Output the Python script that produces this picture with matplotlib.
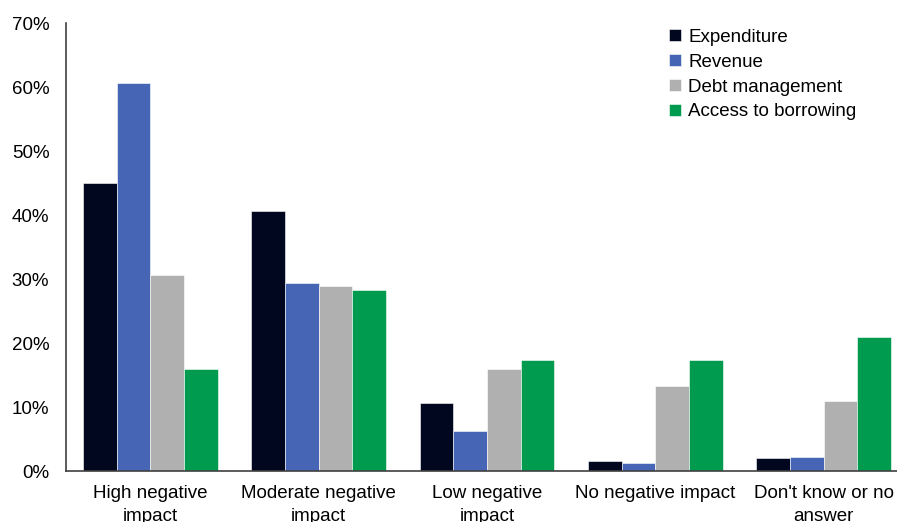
import matplotlib.pyplot as plt
import numpy as np

plt.rcParams['font.family'] = ['Liberation Sans', 'DejaVu Sans']

categories = ["High negative\nimpact", "Moderate negative\nimpact", "Low negative\nimpact",
              "No negative impact", "Don't know or no\nanswer"]
series = ["Expenditure", "Revenue", "Debt management", "Access to borrowing"]
expenditure = [45.0, 40.6, 10.6, 1.6, 2.0]
revenue = [60.6, 29.4, 6.3, 1.3, 2.2]
debt_management = [30.6, 28.9, 15.9, 13.3, 10.9]
access_to_borrowing = [15.9, 28.3, 17.3, 17.3, 20.9]
colors = ["#00071f", "#4666b5", "#b0b0b0", "#009b4e"]

values = [expenditure, revenue, debt_management, access_to_borrowing]

fig = plt.figure(figsize=(8.97, 5.22), dpi=100)
# axes run slightly past the right edge of the figure
ax = fig.add_axes([66 / 897, 51 / 522, 842 / 897, 448 / 522])

x = np.arange(len(categories))
width = 0.2
for i, (name, vals) in enumerate(zip(series, values)):
    ax.bar(x + (i - 1.5) * width, vals, width, color=colors[i], label=name,
           edgecolor="white", linewidth=0.4)

ax.set_xlim(-0.5, len(categories) - 0.5)
ax.set_ylim(0, 70)
ax.set_yticks(np.arange(0, 71, 10))
ax.set_yticklabels([f"{v}%" for v in range(0, 71, 10)])
ax.set_xticks(x)
ax.set_xticklabels(categories, linespacing=1.45)
ax.tick_params(axis="y", length=0, pad=12, labelsize=13.5)
ax.tick_params(axis="x", length=0, pad=10, labelsize=13.5)

for side in ["top", "right"]:
    ax.spines[side].set_visible(False)
for side in ["left", "bottom"]:
    ax.spines[side].set_color("#404040")
    ax.spines[side].set_linewidth(1.2)

ax.legend(loc="upper left", bbox_to_anchor=(592 / 842, 1.012), frameon=False,
          fontsize=13.5, handlelength=0.6, handleheight=0.6, handletextpad=0.4,
          labelspacing=0.42, borderaxespad=0.2)

plt.savefig("out.png", dpi=100)
